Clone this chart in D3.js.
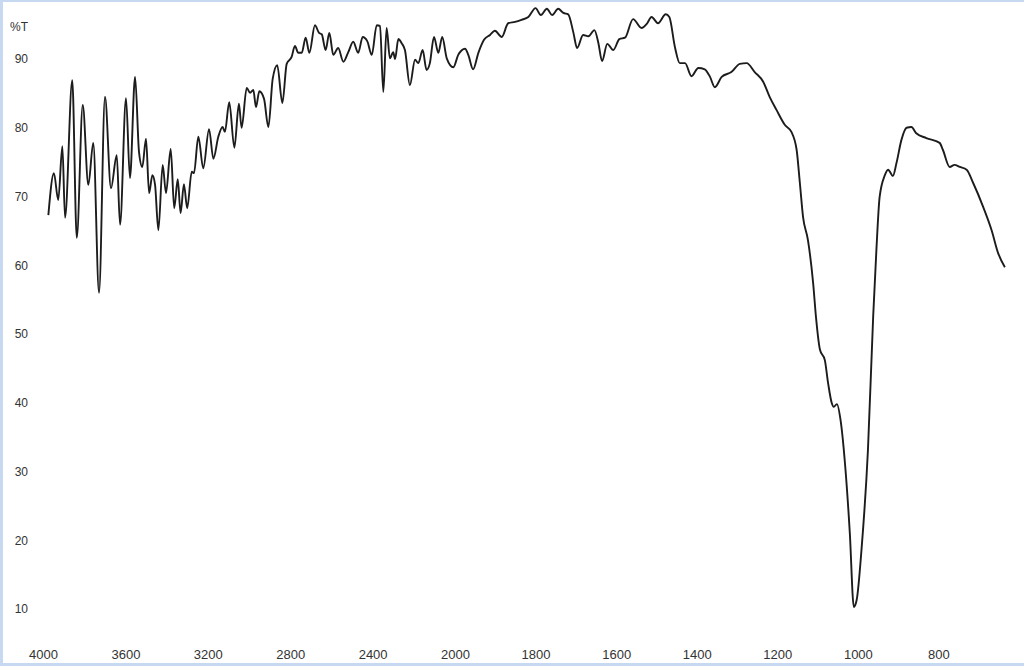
<!DOCTYPE html>
<html>
<head>
<meta charset="utf-8">
<script src="https://cdn.jsdelivr.net/npm/d3@7"></script>
<style>
  body { margin: 0; background: #fff; }
  svg { display: block; }
  text { font-family: "Liberation Sans", Arial, sans-serif; fill: #333; }
</style>
</head>
<body>
<div id="ir_chart"></div>
<script>
// wavenumber (cm-1)
const wavenumber = [
  3974, 3947, 3926, 3906, 3893, 3858, 3836, 3807, 3780, 3756, 3728, 3699, 3670, 3642, 3626, 3597,
  3578, 3553, 3534, 3518, 3500, 3485, 3469, 3456, 3440, 3419, 3403, 3380, 3363, 3346, 3332, 3316,
  3300, 3278, 3267, 3246, 3222, 3194, 3173, 3149, 3128, 3117, 3096, 3071, 3049, 3036, 3011, 2995,
  2979, 2966, 2950, 2927, 2906, 2885, 2863, 2838, 2817, 2793, 2777, 2761, 2744, 2725, 2707, 2680,
  2660, 2647, 2628, 2610, 2591, 2567, 2542, 2518, 2494, 2470, 2448, 2426, 2404, 2380, 2364, 2348,
  2332, 2316, 2300, 2291, 2275, 2259, 2243, 2219, 2194, 2178, 2157, 2138, 2122, 2102, 2081, 2062,
  2040, 2008, 1992, 1975, 1967, 1955, 1942, 1928, 1913, 1901, 1884, 1868, 1851, 1835, 1818, 1800,
  1787, 1772, 1759, 1744, 1731, 1719, 1706, 1697, 1682, 1669, 1654, 1644, 1635, 1622, 1607, 1592,
  1578, 1558, 1537, 1524, 1512, 1496, 1477, 1468, 1454, 1442, 1429, 1413, 1396, 1380, 1367, 1355,
  1338, 1314, 1293, 1276, 1256, 1235, 1219, 1202, 1181, 1165, 1152, 1144, 1136, 1124, 1111, 1104,
  1094, 1082, 1074, 1065, 1060, 1052, 1043, 1032, 1020, 1010, 1003, 991, 975, 962, 954, 946,
  933, 925, 913, 904, 892, 879, 867, 855, 830, 797, 789, 772, 760, 747, 730, 714,
  689, 668, 652, 635
];

// transmittance (%T) at each wavenumber
const transmittance = [
  67.3, 73.4, 69.5, 77.3, 66.9, 86.9, 64.0, 83.3, 71.7, 77.8, 56.0, 84.5, 71.2, 76.0, 65.9, 84.3,
  72.7, 87.4, 76.5, 74.3, 78.4, 70.5, 73.1, 71.7, 65.1, 74.6, 70.5, 76.9, 68.3, 72.5, 67.6, 71.8,
  68.3, 73.6, 73.4, 78.7, 74.1, 79.8, 75.5, 78.7, 80.1, 79.4, 83.7, 77.1, 83.5, 80.0, 85.8, 85.1,
  85.5, 83.0, 85.3, 84.2, 80.1, 87.1, 89.1, 83.6, 89.3, 90.3, 91.9, 90.9, 90.9, 93.1, 90.9, 94.9,
  93.8, 93.6, 91.3, 93.8, 90.6, 91.6, 89.6, 91.0, 92.5, 90.9, 93.2, 92.6, 90.6, 94.9, 94.8, 85.2,
  94.5, 90.1, 91.0, 90.0, 92.9, 92.3, 91.3, 86.2, 89.9, 89.4, 91.3, 88.4, 89.4, 93.2, 90.9, 93.2,
  90.1, 88.8, 90.6, 91.5, 90.6, 88.5, 90.9, 92.8, 93.5, 94.1, 93.2, 95.2, 95.4, 95.7, 96.1, 97.4,
  96.4, 97.3, 96.4, 97.3, 96.7, 96.5, 93.8, 91.6, 93.5, 93.3, 94.2, 92.3, 89.7, 92.2, 91.3, 92.9,
  93.1, 95.8, 94.5, 95.1, 96.1, 95.2, 96.5, 96.1, 91.7, 89.4, 89.4, 87.5, 88.7, 88.5, 87.4, 85.9,
  87.4, 88.1, 89.3, 89.4, 88.1, 86.7, 84.5, 82.6, 80.4, 79.4, 76.8, 72.0, 67.0, 63.7, 57.4, 52.5,
  47.7, 46.2, 42.9, 40.0, 39.4, 39.8, 37.5, 31.2, 21.1, 10.3, 11.3, 18.6, 33.1, 52.5, 62.2, 69.9,
  73.1, 73.9, 73.0, 74.9, 78.2, 80.0, 80.1, 79.2, 78.5, 77.8, 76.8, 74.3, 74.6, 74.3, 73.9, 72.0,
  68.5, 65.1, 61.8, 59.7
];

const xTicks = [4000, 3600, 3200, 2800, 2400, 2000, 1800, 1600, 1400, 1200, 1000, 800];
const yTicks = [90, 80, 70, 60, 50, 40, 30, 20, 10];

const width = 1024, height = 666;

const svg = d3.select("#ir_chart")
  .append("svg")
  .attr("width", width)
  .attr("height", height);

// the wavenumber axis changes scale at 2000 cm-1
const x = d3.scaleLinear()
  .domain([4000, 2000, 600])
  .range([43, 455, 1019]);

const y = d3.scaleLinear()
  .domain([10, 90])
  .range([609, 59]);

const data = wavenumber.map((w, i) => ({ w, t: transmittance[i] }));

// spectrum trace
const line = d3.line()
  .x(d => x(d.w))
  .y(d => y(d.t))
  .curve(d3.curveMonotoneX);

svg.append("path")
  .datum(data)
  .attr("fill", "none")
  .attr("stroke", "#1c1c1c")
  .attr("stroke-width", 1.9)
  .attr("stroke-linejoin", "round")
  .attr("d", line);

// y labels (no axis line in the original)
const yAxis = svg.append("g")
  .attr("transform", "translate(28,0)")
  .call(d3.axisLeft(y).tickValues(yTicks).tickSize(0).tickPadding(0));
yAxis.select(".domain").remove();
yAxis.selectAll("text")
  .style("font-size", "12px")
  .style("font-family", "'Liberation Sans', Arial, sans-serif")
  .attr("fill", "#3a3a3a");

svg.append("text")
  .attr("x", 28)
  .attr("y", 31)
  .attr("text-anchor", "end")
  .style("font-size", "12px")
  .attr("fill", "#3a3a3a")
  .text("%T");

// x labels
const xAxis = svg.append("g")
  .attr("transform", "translate(0,650)")
  .call(d3.axisBottom(x).tickValues(xTicks).tickSize(0).tickPadding(0).tickFormat(d3.format("d")));
xAxis.select(".domain").remove();
xAxis.selectAll("text")
  .style("font-size", "13px")
  .style("font-family", "'Liberation Sans', Arial, sans-serif")
  .attr("fill", "#3a3a3a");

// light blue frame of the scanned picture
const frame = "#c6d9f0";
svg.append("rect").attr("x", 0).attr("y", 0).attr("width", width).attr("height", 2).attr("fill", frame);
svg.append("rect").attr("x", 0).attr("y", 0).attr("width", 3).attr("height", height).attr("fill", frame);
svg.append("rect").attr("x", 0).attr("y", 663).attr("width", width).attr("height", 3).attr("fill", frame);
</script>
</body>
</html>
